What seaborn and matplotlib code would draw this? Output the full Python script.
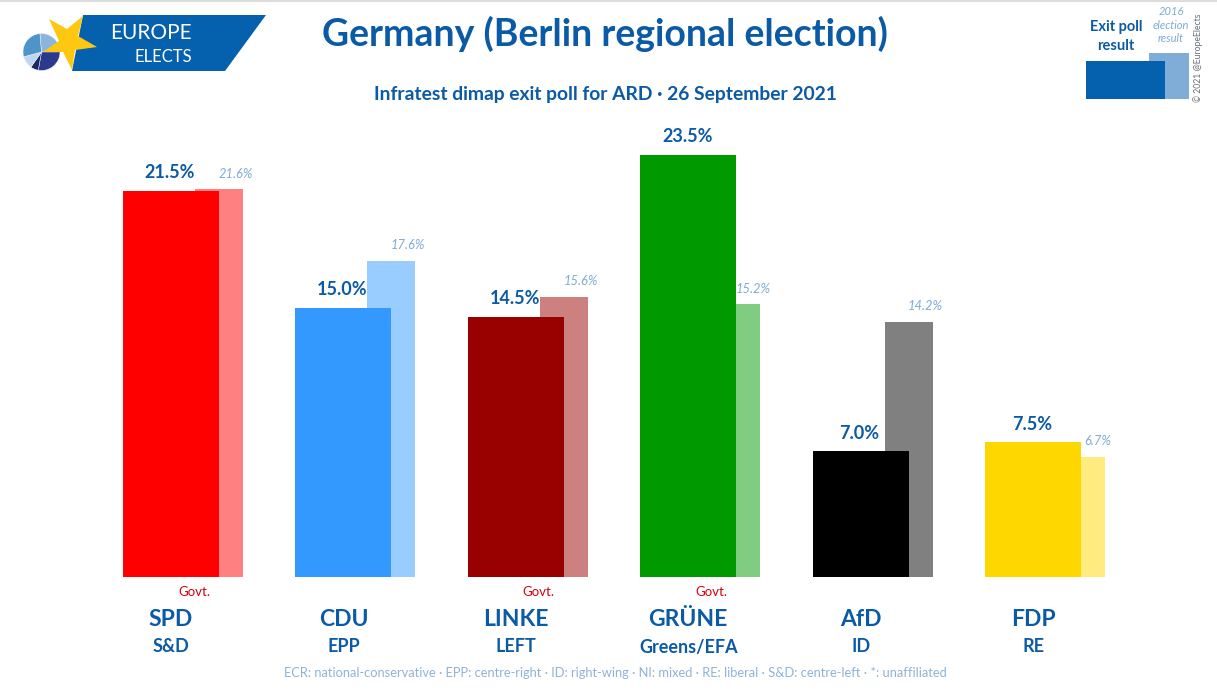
import numpy as np
import pandas as pd
import seaborn as sns
from matplotlib import pyplot as plt
from matplotlib.patches import Polygon, Rectangle, Wedge

parties = ['SPD', 'CDU', 'LINKE', 'GRÜNE', 'AfD', 'FDP']
groups = ['S&D', 'EPP', 'LEFT', 'Greens/EFA', 'ID', 'RE']
poll = [21.5, 15.0, 14.5, 23.5, 7.0, 7.5]
previous = [21.6, 17.6, 15.6, 15.2, 14.2, 6.7]
in_govt = ['SPD', 'LINKE', 'GRÜNE']
poll_colors = ['#ff0000', '#3399ff', '#990000', '#009900', '#000000', '#ffd700']
prev_colors = ['#ff8080', '#99ccff', '#cc8080', '#80cc80', '#808080', '#ffeb80']

W, H = 1217, 694
BLUE = '#0b5aa5'
PALE = '#7fabd4'

sns.set_theme(style='white')
plt.rcParams['font.family'] = ['Lato', 'DejaVu Sans']

fig = plt.figure(figsize=(W / 100, H / 100), dpi=100)

# bars: baseline at y=577, 17.96 px per point, groups 172.4 px apart
BASE = 577
TOP = 100
STEP = 172.4
ax = fig.add_axes([0, 1 - BASE / H, 1, (BASE - TOP) / H])

pos = np.arange(len(parties))
prev_df = pd.DataFrame({'x': pos + 48 / STEP, 'y': previous, 'party': parties})
poll_df = pd.DataFrame({'x': pos.astype(float), 'y': poll, 'party': parties})

sns.barplot(data=prev_df, x='x', y='y', hue='party', palette=prev_colors,
            native_scale=True, dodge=False, width=48 / STEP, legend=False,
            saturation=1, linewidth=0, ax=ax)
sns.barplot(data=poll_df, x='x', y='y', hue='party', palette=poll_colors,
            native_scale=True, dodge=False, width=96 / STEP, legend=False,
            saturation=1, linewidth=0, ax=ax)
ax.set_xlim(-171 / STEP, (W - 171) / STEP)
ax.set_ylim(0, (BASE - TOP) / 17.96)
ax.axis('off')

for i in pos:
    ax.text(i - 1 / STEP, poll[i] + 18 / 17.96, '%.1f%%' % poll[i], ha='center',
            va='center', fontsize=13, fontweight='bold', color=BLUE)
    ax.text(i + 65 / STEP, previous[i] + 15.5 / 17.96, '%.1f%%' % previous[i],
            ha='center', va='center', fontsize=9.3, style='italic', color=PALE)

# everything else is placed in picture pixels
deco = fig.add_axes([0, 0, 1, 1], zorder=-1)
deco.set_xlim(0, W)
deco.set_ylim(H, 0)
deco.axis('off')

for i, (party, group) in enumerate(zip(parties, groups)):
    cx = 171 + i * STEP
    deco.text(cx, 619, party, ha='center', va='center', fontsize=16.5,
              fontweight='bold', color=BLUE)
    deco.text(cx, 647, group, ha='center', va='center', fontsize=13,
              fontweight='bold', color=BLUE)
    if party in in_govt:
        deco.text(cx + 23, 592, 'Govt.', ha='center', va='center', fontsize=9.5,
                  color='#d8000f')

deco.plot([0, W], [1, 1], color='#dddddd', lw=1.5)
deco.text(605, 34, 'Germany (Berlin regional election)', ha='center', va='center',
          fontsize=27, fontweight='bold', color=BLUE)
deco.text(606, 94, 'Infratest dimap exit poll for ARD · 26 September 2021', ha='center',
          va='center', fontsize=13.9, fontweight='bold', color=BLUE)
deco.text(615, 673, 'ECR: national-conservative · EPP: centre-right · ID: right-wing · '
          'NI: mixed · RE: liberal · S&D: centre-left · *: unaffiliated',
          ha='center', va='center', fontsize=9.3, color='#8fb3d6')

# logo
deco.add_patch(Polygon([(83, 15), (266, 15), (225, 71), (72, 71)], color='#0560ad', lw=0))
wedges = [(-95, 0, '#8ab6de'), (0, 100, '#2b3a8c'), (100, 125, '#1b2a63'),
          (125, 165, '#c0d6ee'), (165, 265, '#4f94c8')]
for a, b, c in wedges:
    deco.add_patch(Wedge((41.5, 52), 18.5, a, b, facecolor=c, edgecolor='white', lw=0.3))
deco.add_patch(Polygon([(83, 16), (78, 36), (97, 47), (75, 50), (72, 70), (63, 52),
                        (43, 52), (59, 41), (49, 19), (67, 29)], color='#fdc80f',
                       lw=0, zorder=3))
deco.text(150.5, 33, 'EUROPE', ha='center', va='center', fontsize=15, color='white', zorder=4)
deco.text(163.5, 57, 'ELECTS', ha='center', va='center', fontsize=12, color='white', zorder=4)

# key in the top right corner
deco.add_patch(Rectangle((1149, 53), 40, 46, color='#80add8', lw=0))
deco.add_patch(Rectangle((1086, 61), 79, 38, color='#0560ad', lw=0))
deco.text(1116, 27, 'Exit poll', ha='center', va='center', fontsize=10.5,
          fontweight='bold', color=BLUE)
deco.text(1116, 46, 'result', ha='center', va='center', fontsize=10.5,
          fontweight='bold', color=BLUE)
for y, line in zip([11, 25, 38], ['2016', 'election', 'result']):
    deco.text(1171, y, line, ha='center', va='center', fontsize=8, style='italic',
              color=PALE)
deco.text(1198, 58, '© 2021 @EuropeElects', ha='center', va='center', rotation=90,
          fontsize=6.2, color='#666e78')

fig.savefig('out.png', dpi=100)
